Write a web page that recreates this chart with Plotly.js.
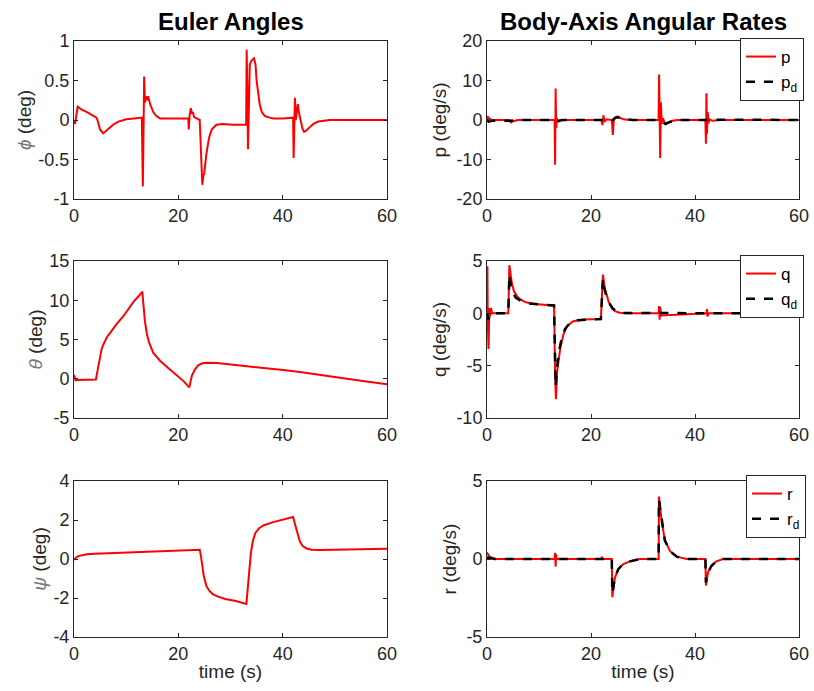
<!DOCTYPE html>
<html><head><meta charset="utf-8">
<script src="https://cdn.plot.ly/plotly-3.0.1.min.js"></script>
<style>html,body{margin:0;padding:0;background:#fff}#plot{width:814px;height:691px}</style>
</head><body><div id="plot"></div>
<script>
// ---- data ----
const t_phi = [0,0.2,0.7,1.5,2.5,3.5,4.3,4.5,5.0,5.6,6.5,7.5,8.5,10,11.5,13.0,13.2,13.3,13.45,13.6,13.8,14.0,14.2,14.6,15.2,15.8,16.5,18,20,21.9,22.0,22.15,22.4,22.6,22.8,23.0,23.5,24.1,24.4,24.6,24.8,24.95,25.4,25.9,26.4,27.3,28.5,30.5,33.0,33.1,33.2,33.35,33.5,33.7,34.0,34.5,34.8,35.0,35.3,35.6,36.0,36.6,37.5,38.2,40,42.0,42.1,42.2,42.35,42.5,42.7,42.9,43.1,43.4,43.8,44.1,44.6,45.2,45.9,46.8,47.8,49,52,60];
const phi   = [0,-0.05,0.17,0.13,0.1,0.06,0.03,0.0,-0.12,-0.17,-0.12,-0.06,-0.02,0.01,0.02,0.03,-0.84,0.2,0.55,0.22,0.3,0.25,0.3,0.2,0.1,0.05,0.02,0.02,0.02,0.02,-0.12,0.05,0.15,0.08,0.1,0.04,0.02,0.0,-0.5,-0.82,-0.7,-0.68,-0.42,-0.22,-0.12,-0.06,-0.05,-0.06,-0.06,0.89,0.5,-0.37,0.2,0.7,0.75,0.78,0.7,0.5,0.35,0.2,0.1,0.05,0.03,0.02,0.02,0.03,-0.48,0.0,0.28,0.0,0.08,0.2,0.1,0.0,-0.11,-0.15,-0.13,-0.09,-0.05,-0.02,-0.01,0,0,0];

const t_theta = [0,0.3,0.6,1,2,3,4.2,4.5,4.8,5.0,5.3,5.6,6.3,7,8.2,9.5,11.4,12.5,13.1,13.3,13.6,14.0,14.4,15.2,16.5,18,19.5,21,22.1,22.3,22.6,23.2,23.8,24.5,25.2,27.4,30.5,34.4,40.1,43.3,49.7,55,60];
const theta   = [0.5,-0.2,-0.15,-0.15,-0.12,-0.12,-0.1,1.0,2.2,3.0,3.8,4.3,5.3,5.9,7.0,8.0,9.8,10.6,11.1,9.5,7.3,5.6,4.6,3.3,2.3,1.4,0.5,-0.3,-1.1,-0.4,0.4,1.2,1.7,1.95,2.05,2.0,1.8,1.5,1.1,0.85,0.2,-0.25,-0.7];

const t_psi = [0,0.3,0.8,1.5,2.5,4,6,10,13.3,17,20.3,24.1,24.3,24.6,24.9,25.4,26,26.6,27.5,29,31,33.05,33.3,33.6,33.9,34.3,34.8,35.5,36.3,38,40,42.0,42.4,42.8,43.3,43.8,44.5,45.5,47,50,55,60];
const psi   = [-0.05,0.05,0.15,0.2,0.24,0.27,0.29,0.33,0.38,0.41,0.44,0.47,0.2,-0.4,-0.9,-1.4,-1.65,-1.8,-1.92,-2.05,-2.15,-2.3,-1.6,-0.6,0.3,0.95,1.35,1.58,1.72,1.88,2.0,2.15,1.75,1.3,0.9,0.68,0.55,0.48,0.46,0.47,0.5,0.53];

const t_p = [0,0.15,0.3,0.5,0.8,2,4.3,4.6,5,6,10,13.0,13.1,13.2,13.3,13.45,13.6,14,15,20,22.0,22.2,22.4,22.6,23,24.0,24.2,24.4,24.7,25.1,25.6,26.5,28,33.0,33.1,33.2,33.3,33.45,33.6,33.8,34.2,34.6,35.3,36.5,42.0,42.1,42.2,42.3,42.45,42.6,42.8,43.3,45,60];
const p   = [0,1.0,-0.5,0.5,0,0,0,-0.6,-0.3,0,0,0,-11.3,8.0,-2,0.5,-0.5,0,0,0,0,-1.3,1.2,-0.5,0.2,0,-3.8,0.3,0.6,0.9,0.5,0.1,0,0,11.5,-3,-9.6,4.5,-1,0.5,-0.8,-0.8,-0.3,0,0,-6.0,6.8,-3.5,2,-0.8,0.2,-0.2,0,0];
const t_pd = [0,0.3,1,4.5,5.5,13.2,13.6,14.5,24.2,24.8,25.5,26.5,28,33.1,33.5,34.3,35,36.5,42.1,42.5,60];
const p_d  = [0,-0.4,-0.2,-0.2,0,0,-0.3,0,0,0.7,0.6,0.2,0,0,-0.2,-1.0,-0.6,0,0,0.1,0];

const t_q = [0,0.08,0.15,0.3,0.45,0.6,0.75,1.0,2,4.1,4.3,4.5,4.8,5.2,5.8,6.5,7.5,9,11,12.9,13.1,13.25,13.5,13.8,14.1,14.7,15.4,16.6,18.6,21.9,22.1,22.3,22.6,23.0,23.4,24.0,24.6,25.5,27,33.0,33.1,33.2,33.3,33.5,42.2,42.3,42.4,42.6,60];
const q   = [0,4.5,-1,-3.4,0.5,-0.3,0.5,0,0,0,4.6,3.6,2.8,2.1,1.6,1.3,1.05,0.9,0.8,0.75,-6,-8.2,-5.5,-4.2,-3.3,-2.0,-1.2,-0.75,-0.6,-0.55,2.5,3.7,2.5,1.7,1.1,0.5,0.2,0.05,0,0,0.7,-0.6,0.6,-0.2,0,0.4,-0.3,0,0];
const t_qd = [0,0.3,0.6,1.0,4.1,4.3,4.6,5.0,5.5,6.5,8,10,12.9,13.2,13.5,13.9,14.4,15,16,17.5,19,21.9,22.3,22.6,23.0,23.5,24.2,25,26,60];
const q_d  = [0,-0.6,-0.1,0,0,3.7,2.6,2.0,1.5,1.2,0.95,0.85,0.75,-7.0,-5.0,-3.5,-2.3,-1.5,-0.9,-0.65,-0.6,-0.55,3.3,2.3,1.6,1.0,0.45,0.15,0.03,0];

const t_r = [0,0.1,0.5,1.0,1.5,2.5,13.0,13.1,13.2,13.3,13.4,22.0,22.1,22.2,24.0,24.1,24.6,25.25,26.2,27.5,29.4,33.0,33.07,33.6,34.2,35.2,36.5,38.4,42.0,42.1,42.5,43.2,44.1,45.4,60];
const r   = [0.3,0.35,0.15,0.05,0,0,0,0.4,-0.5,0.3,0,0,0.15,0,0,-2.45,-1.2,-0.65,-0.32,-0.15,0,0,4.0,2.4,1.2,0.5,0.15,0,0,-1.7,-0.85,-0.43,-0.15,0,0];
const t_rd = [0,0.5,1.5,24.0,24.1,24.6,25.25,26.2,27.5,29.4,33.0,33.07,33.6,34.2,35.2,36.5,38.4,42.0,42.1,42.5,43.2,44.1,45.4,60];
const r_d  = [0.1,0.05,0,0,-2.2,-1.2,-0.65,-0.32,-0.15,0,0,3.8,2.4,1.2,0.5,0.15,0,0,-1.5,-0.85,-0.43,-0.15,0,0];

const xTicks = [0,20,40,60];
const yTicks_phi = [-1,-0.5,0,0.5,1],  yText_phi = ['-1','-0.5','0','0.5','1'];
const yTicks_theta = [-5,0,5,10,15],   yText_theta = ['-5','0','5','10','15'];
const yTicks_psi = [-4,-2,0,2,4],      yText_psi = ['-4','-2','0','2','4'];
const yTicks_p = [-20,-10,0,10,20],    yText_p = ['-20','-10','0','10','20'];
const yTicks_q = [-10,-5,0,5],         yText_q = ['-10','-5','0','5'];
const yTicks_r = [-5,0,5],             yText_r = ['-5','0','5'];

// ---- traces ----
const RED = '#ff0000', BLK = '#000000';
function line(x, y, ax, name, color, dash, legend, show) {
  return {x: x, y: y, xaxis: 'x' + ax, yaxis: 'y' + ax, type: 'scatter', mode: 'lines',
    name: name, legend: legend, showlegend: show,
    line: {color: color, width: dash ? 2.5 : 2, dash: dash ? 'dash' : 'solid'}};
}
const data = [
  line(t_phi, phi, '', 'phi', RED, false, 'legend', false),
  line(t_p, p, '2', 'p', RED, false, 'legend', true),
  line(t_pd, p_d, '2', 'p<sub>d</sub>', BLK, true, 'legend', true),
  line(t_theta, theta, '3', 'theta', RED, false, 'legend', false),
  line(t_q, q, '4', 'q', RED, false, 'legend2', true),
  line(t_qd, q_d, '4', 'q<sub>d</sub>', BLK, true, 'legend2', true),
  line(t_psi, psi, '5', 'psi', RED, false, 'legend', false),
  line(t_r, r, '6', 'r', RED, false, 'legend3', true),
  line(t_rd, r_d, '6', 'r<sub>d</sub>', BLK, true, 'legend3', true)
];

// ---- layout ----
const W = 814, H = 691;
const colX = [[74, 387], [487, 799]];
const rowY = [[41, 199], [261, 418], [481, 637]];
const AX = '#262626';
const FONT = 'Liberation Sans, Arial, Helvetica, sans-serif';
function xa(col, row, title) {
  const n = row * 2 + col + 1;
  const o = {domain: [colX[col][0] / W, colX[col][1] / W], anchor: 'y' + (n === 1 ? '' : n),
    range: [0, 60], tickvals: xTicks, ticktext: xTicks.map(String),
    showline: true, mirror: 'ticks', linecolor: AX, linewidth: 1, ticks: 'inside', ticklen: 4, tickcolor: AX,
    showgrid: false, zeroline: false, tickfont: {size: 18, color: AX, family: FONT}, fixedrange: true};
  if (title) o.title = {text: title, font: {size: 19, color: AX, family: FONT}, standoff: 2};
  return o;
}
function ya(col, row, vals, text, title) {
  const n = row * 2 + col + 1;
  return {domain: [1 - rowY[row][1] / H, 1 - rowY[row][0] / H], anchor: 'x' + (n === 1 ? '' : n),
    range: [vals[0], vals[vals.length - 1]], tickvals: vals, ticktext: text,
    showline: true, mirror: 'ticks', linecolor: AX, linewidth: 1, ticks: 'inside', ticklen: 4, tickcolor: AX,
    showgrid: false, zeroline: false, tickfont: {size: 18, color: AX, family: FONT}, fixedrange: true,
    title: {text: title, font: {size: 19, color: AX, family: FONT}, standoff: col === 0 ? 1 : 4}};
}
const G = (s) => '<span style="color:#777777"><i>' + s + '</i></span>';
const legendBase = {xanchor: 'right', yanchor: 'top', bgcolor: '#ffffff', bordercolor: '#262626', borderwidth: 1,
  font: {size: 17, color: '#000', family: FONT}, tracegroupgap: 0, itemwidth: 30};
const layout = {
  width: W, height: H, margin: {l: 0, r: 0, t: 0, b: 0}, paper_bgcolor: '#fff', plot_bgcolor: '#fff',
  font: {family: FONT},
  xaxis: xa(0, 0), yaxis: ya(0, 0, yTicks_phi, yText_phi, G('ϕ') + ' (deg)'),
  xaxis2: xa(1, 0), yaxis2: ya(1, 0, yTicks_p, yText_p, 'p (deg/s)'),
  xaxis3: xa(0, 1), yaxis3: ya(0, 1, yTicks_theta, yText_theta, G('θ') + ' (deg)'),
  xaxis4: xa(1, 1), yaxis4: ya(1, 1, yTicks_q, yText_q, 'q (deg/s)'),
  xaxis5: xa(0, 2, 'time (s)'), yaxis5: ya(0, 2, yTicks_psi, yText_psi, G('ψ') + ' (deg)'),
  xaxis6: xa(1, 2, 'time (s)'), yaxis6: ya(1, 2, yTicks_r, yText_r, 'r (deg/s)'),
  legend: Object.assign({}, legendBase, {x: 804 / W, y: 1 - 38 / H}),
  legend2: Object.assign({}, legendBase, {x: 804 / W, y: 1 - 255 / H}),
  legend3: Object.assign({}, legendBase, {x: 806 / W, y: 1 - 475 / H}),
  annotations: [
    {text: '<b>Euler Angles</b>', xref: 'paper', yref: 'paper', x: 230.5 / W, y: 1 - 22 / H, xanchor: 'center', yanchor: 'middle', showarrow: false, font: {size: 24, color: '#000', family: FONT}},
    {text: '<b>Body-Axis Angular Rates</b>', xref: 'paper', yref: 'paper', x: 643 / W, y: 1 - 22 / H, xanchor: 'center', yanchor: 'middle', showarrow: false, font: {size: 24, color: '#000', family: FONT}}
  ],
  showlegend: true
};
Plotly.newPlot('plot', data, layout, {displayModeBar: false, staticPlot: true});
</script></body></html>
